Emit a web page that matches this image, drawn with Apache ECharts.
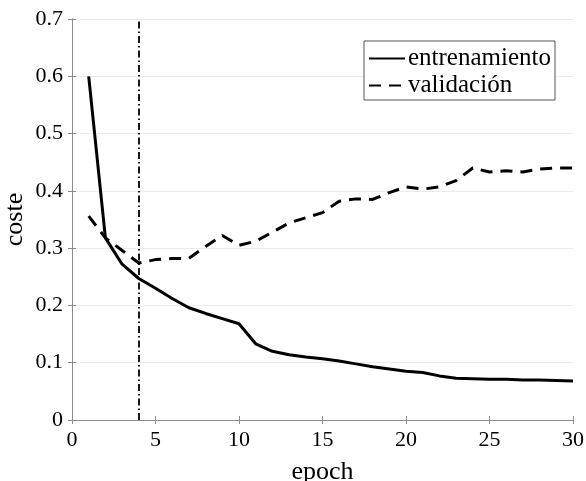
<!DOCTYPE html>
<html><head><meta charset="utf-8">
<script src="https://cdn.jsdelivr.net/npm/echarts@6/dist/echarts.min.js"></script>
<style>html,body{margin:0;padding:0;background:#fff}#c{width:586px;height:481px}</style>
</head><body><div id="c"></div>
<script>
const epochs = [1,2,3,4,5,6,7,8,9,10,11,12,13,14,15,16,17,18,19,20,21,22,23,24,25,26,27,28,29,30];
const entrenamiento = [0.600,0.318,0.272,0.247,0.230,0.212,0.196,0.186,0.177,0.168,0.133,0.120,0.114,0.110,0.107,0.103,0.098,0.093,0.089,0.085,0.083,0.077,0.073,0.072,0.071,0.071,0.070,0.070,0.069,0.068];
const validacion = [0.356,0.318,0.296,0.274,0.280,0.282,0.282,0.303,0.322,0.305,0.312,0.328,0.344,0.353,0.362,0.382,0.386,0.385,0.397,0.407,0.403,0.407,0.418,0.440,0.433,0.435,0.433,0.438,0.440,0.440];
const xTicks = [0,5,10,15,20,25,30];
const yTicks = [0,0.1,0.2,0.3,0.4,0.5,0.6,0.7];
const markEpoch = 4;

const font = 'Liberation Serif';
const axisCol = '#8c8c8c';
const chart = echarts.init(document.getElementById('c'));
chart.setOption({
  animation: false,
  grid: {left: 72, right: 13, top: 19, bottom: 61, containLabel: false, outerBoundsMode: 'none'},
  legend: {
    left: 364, top: 41, orient: 'vertical',
    backgroundColor: '#fff', borderColor: '#555', borderWidth: 1,
    padding: [5, 4, 2, 4], itemGap: 2, itemWidth: 36, itemHeight: 14,
    itemStyle: {opacity: 0},
    textStyle: {fontFamily: font, fontSize: 25, color: '#000', padding: [0,0,0,-2]},
    data: ['entrenamiento', 'validación']
  },
  xAxis: [{
    type: 'value', min: xTicks[0], max: xTicks[xTicks.length-1], interval: 5,
    name: 'epoch', nameLocation: 'middle', nameGap: 39, nameMoveOverlap: false,
    nameTextStyle: {fontFamily: font, fontSize: 26, color: '#000'},
    axisLine: {show: true, onZero: false, lineStyle: {color: axisCol, width: 1}},
    axisTick: {show: true, inside: true, length: 4, lineStyle: {color: axisCol}},
    axisLabel: {fontFamily: font, fontSize: 22, color: '#000', margin: 9},
    splitLine: {show: false}
  }, {
    type: 'value', position: 'top', min: xTicks[0], max: xTicks[xTicks.length-1], interval: 5,
    axisLine: {show: true, lineStyle: {color: axisCol, width: 1}},
    axisTick: {show: true, inside: true, length: 4, lineStyle: {color: axisCol}},
    axisLabel: {show: false}, splitLine: {show: false}
  }],
  yAxis: [{
    type: 'value', min: yTicks[0], max: yTicks[yTicks.length-1], interval: 0.1,
    name: 'coste', nameLocation: 'middle', nameGap: 44, nameMoveOverlap: false,
    nameTextStyle: {fontFamily: font, fontSize: 26, color: '#000'},
    axisLine: {show: true, lineStyle: {color: axisCol, width: 1}},
    axisTick: {show: true, inside: true, length: 4, lineStyle: {color: axisCol}},
    axisLabel: {fontFamily: font, fontSize: 22, color: '#000', margin: 9,
      formatter: v => (Math.round(v*10)/10).toString()},
    splitLine: {show: true, lineStyle: {color: '#ebebeb', width: 1}}
  }, {
    type: 'value', position: 'right', min: yTicks[0], max: yTicks[yTicks.length-1], interval: 0.1,
    axisLine: {show: true, lineStyle: {color: axisCol, width: 1}},
    axisTick: {show: true, inside: true, length: 4, lineStyle: {color: axisCol}},
    axisLabel: {show: false}, splitLine: {show: false}
  }],
  series: [{
    name: 'entrenamiento', type: 'line', symbol: 'none',
    data: epochs.map((e, i) => [e, entrenamiento[i]]),
    lineStyle: {color: '#000', width: 3}, itemStyle: {color: '#000'},
    markLine: {
      silent: true, symbol: 'none', label: {show: false},
      lineStyle: {color: '#000', width: 1.8, type: [7, 3, 1.5, 3]},
      data: [{xAxis: markEpoch}]
    }
  }, {
    name: 'validación', type: 'line', symbol: 'none',
    data: epochs.map((e, i) => [e, validacion[i]]),
    lineStyle: {color: '#000', width: 3, type: [12, 8]}, itemStyle: {color: '#000'}
  }]
});
</script></body></html>
